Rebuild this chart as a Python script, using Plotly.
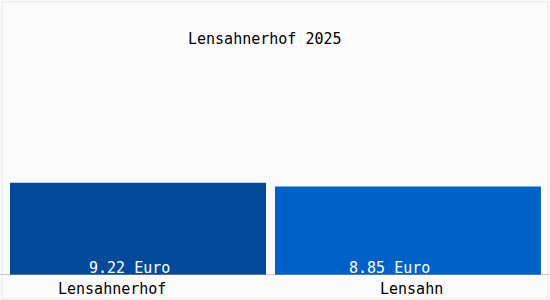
import plotly.graph_objects as go

categories = ["Lensahnerhof", "Lensahn"]
values = [9.22, 8.85]
value_labels = ["9.22 Euro", "8.85 Euro"]
title_text = "Lensahnerhof 2025"

colors = ["#04499a", "#0062c8"]
FONT = "DejaVu Sans Mono"

fig = go.Figure()
fig.add_trace(go.Bar(
    x=categories, y=values,
    marker=dict(color=colors, line=dict(width=0)),
    width=[0.931, 0.967],
    offset=[-0.4636, -0.5],
    hoverinfo="skip",
))

value_shifts = [-8, -23]
label_shifts = [-26, -1]
for i, cat in enumerate(categories):
    fig.add_annotation(x=cat, y=0, xref="x", yref="y", text=value_labels[i],
                       showarrow=False, yanchor="bottom", yshift=-4,
                       xshift=value_shifts[i],
                       font=dict(family=FONT, size=15, color="white"))
    fig.add_annotation(x=cat, y=0, xref="x", yref="y", text=cat,
                       showarrow=False, yanchor="top", yshift=-3,
                       xshift=label_shifts[i],
                       font=dict(family=FONT, size=15, color="black"))

fig.add_annotation(xref="paper", yref="paper", x=265/550, y=1-39/275,
                   xanchor="center", yanchor="middle", text=title_text,
                   showarrow=False, font=dict(family=FONT, size=15, color="black"))

fig.update_layout(
    width=550, height=300,
    margin=dict(l=0, r=0, t=0, b=25),
    paper_bgcolor="#fbfbfb",
    plot_bgcolor="#fbfbfb",
    showlegend=False,
    xaxis=dict(range=[-0.5, 1.5], showticklabels=False, showgrid=False,
               zeroline=False, showline=False, fixedrange=True),
    yaxis=dict(range=[0, 27.5], showticklabels=False, showgrid=False,
               zeroline=False, showline=False, fixedrange=True),
    shapes=[
        dict(type="line", xref="paper", yref="y", x0=0, x1=1, y0=0, y1=0,
             line=dict(color="#999999", width=1)),
        dict(type="rect", xref="paper", yref="paper", x0=0.004, x1=0.996,
             y0=-25/275 + 0.004, y1=0.993, line=dict(color="#e6e6e6", width=1)),
    ],
)

fig.write_html("out.html")
